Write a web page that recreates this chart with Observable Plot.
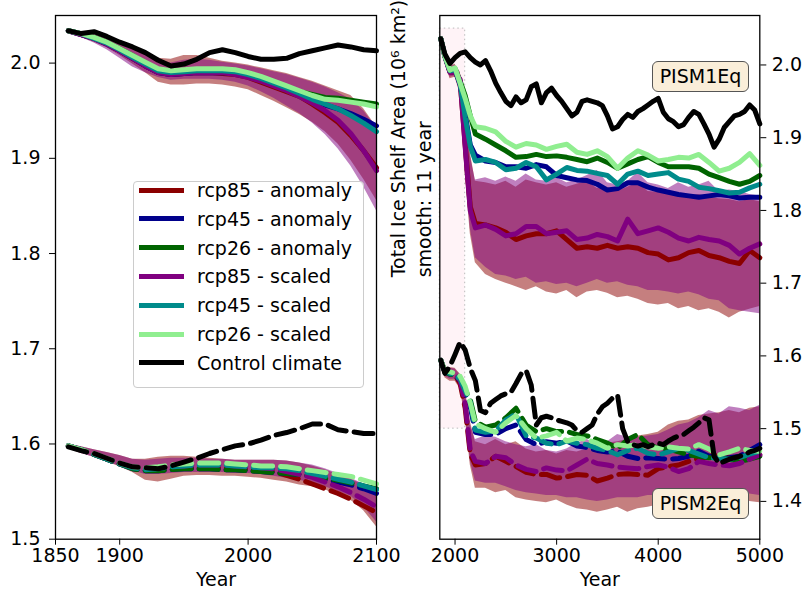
<!DOCTYPE html>
<html>
<head>
<meta charset="utf-8">
<script src="https://cdn.jsdelivr.net/npm/d3@7"></script>
<script src="https://cdn.jsdelivr.net/npm/@observablehq/plot@0.6"></script>
<style>
  body { margin: 0; background: white; }
  #wrap { position: relative; width: 808px; height: 598px; font-family: "DejaVu Sans", sans-serif; overflow: hidden; }
  #wrap svg { position: absolute; top: 0; overflow: visible; }
  .legend { position: absolute; left: 133px; top: 181px; width: 231px; height: 207px; border: 1px solid #cccccc; border-radius: 4px; background: rgba(255,255,255,0.8); box-sizing: border-box; }
  .lrow { position: absolute; left: 0; height: 28px; width: 100%; }
  .lsw { position: absolute; left: 5px; top: 11.5px; width: 45px; height: 5px; }
  .ltx { position: absolute; left: 63px; top: 0; line-height: 28px; font-size: 19px; color: #000; white-space: nowrap; }
  .tag { position: absolute; width: 97px; height: 31px; border: 1.5px solid #555; border-radius: 6px; background: #faeed9; box-sizing: border-box; font-size: 19px; line-height: 28px; text-align: center; color: #000; }
</style>
</head>
<body>
<div id="wrap"></div>
<script>
// ---------- series ----------
const seriesNames  = ["rcp85 - anomaly","rcp45 - anomaly","rcp26 - anomaly","rcp85 - scaled","rcp45 - scaled","rcp26 - scaled","Control climate"];
const seriesColors = ["#8b0000","#00008b","#006400","#800080","#008b8b","#90ee90","#000000"];
const bandColors   = ["#8b0000","#800080"]; // anomaly spread, scaled spread
const modelNames   = ["PISM1Eq","PISM2Eq"];

// ---------- left panel (historical) ----------
const leftXDomain = [1850, 2100];
const leftYDomain = [1.5, 2.05];
const leftXTicks = [1850, 1900, 2000, 2100];
const leftYTicks = [1.5, 1.6, 1.7, 1.8, 1.9, 2.0];
const yearsL = [1860,1870,1880,1890,1900,1910,1920,1930,1940,1950,1960,1970,1980,1990,2000,2010,2020,2030,2040,2050,2060,2070,2080,2090,2100];

// PISM1Eq (solid)
const rcp85aL1 = [2.034,2.030,2.026,2.020,2.013,2.005,1.997,1.990,1.988,1.989,1.990,1.990,1.989,1.988,1.985,1.980,1.975,1.970,1.965,1.957,1.948,1.938,1.924,1.908,1.890];
const rcp45aL1 = [2.034,2.030,2.026,2.020,2.013,2.005,1.997,1.990,1.988,1.989,1.990,1.990,1.990,1.989,1.986,1.982,1.977,1.972,1.967,1.961,1.956,1.952,1.947,1.941,1.934];
const rcp26aL1 = [2.034,2.031,2.027,2.022,2.015,2.008,2.000,1.993,1.991,1.992,1.993,1.993,1.992,1.991,1.988,1.984,1.980,1.975,1.970,1.967,1.964,1.963,1.961,1.959,1.957];
const rcp85sL1 = [2.034,2.030,2.026,2.020,2.013,2.005,1.997,1.990,1.988,1.989,1.990,1.990,1.990,1.988,1.985,1.981,1.976,1.971,1.965,1.958,1.950,1.940,1.926,1.908,1.887];
const rcp45sL1 = [2.034,2.031,2.026,2.021,2.014,2.006,1.999,1.992,1.990,1.991,1.992,1.992,1.992,1.991,1.988,1.984,1.979,1.974,1.968,1.962,1.957,1.952,1.945,1.937,1.928];
const rcp26sL1 = [2.034,2.031,2.027,2.022,2.015,2.008,2.001,1.994,1.992,1.993,1.994,1.994,1.994,1.993,1.990,1.986,1.981,1.976,1.971,1.966,1.962,1.961,1.959,1.957,1.954];
const ctrlL1   = [2.034,2.031,2.033,2.028,2.022,2.017,2.011,2.003,1.997,1.999,2.004,2.011,2.014,2.011,2.007,2.004,2.004,2.005,2.010,2.013,2.016,2.019,2.017,2.014,2.013];
const anomHiL1 = [2.036,2.033,2.030,2.026,2.022,2.016,2.010,2.005,2.004,2.008,2.008,2.005,2.002,2.000,1.998,1.995,1.992,1.989,1.985,1.981,1.976,1.971,1.966,1.952,1.933];
const anomLoL1 = [2.032,2.027,2.022,2.016,2.008,1.999,1.990,1.980,1.977,1.977,1.978,1.978,1.977,1.975,1.972,1.966,1.960,1.953,1.946,1.938,1.928,1.915,1.898,1.878,1.856];
const scalHiL1 = [2.036,2.033,2.030,2.026,2.021,2.015,2.009,2.003,2.000,2.003,2.004,2.003,2.001,1.999,1.997,1.994,1.991,1.988,1.984,1.980,1.975,1.969,1.962,1.950,1.932];
const scalLoL1 = [2.032,2.027,2.021,2.014,2.005,1.996,1.990,1.985,1.982,1.983,1.983,1.983,1.982,1.980,1.976,1.970,1.963,1.955,1.947,1.937,1.925,1.910,1.892,1.870,1.845];

// PISM2Eq (dashed)
const rcp85aL2 = [1.598,1.594,1.589,1.584,1.579,1.575,1.573,1.573,1.574,1.575,1.575,1.575,1.575,1.574,1.574,1.573,1.571,1.567,1.563,1.558,1.553,1.548,1.542,1.535,1.528];
const rcp45aL2 = [1.598,1.594,1.589,1.584,1.579,1.574,1.572,1.572,1.573,1.574,1.574,1.574,1.573,1.573,1.572,1.571,1.570,1.569,1.568,1.566,1.563,1.560,1.557,1.553,1.548];
const rcp26aL2 = [1.598,1.594,1.589,1.584,1.579,1.574,1.572,1.572,1.573,1.574,1.574,1.574,1.573,1.573,1.572,1.571,1.570,1.569,1.568,1.566,1.564,1.562,1.559,1.556,1.553];
const rcp85sL2 = [1.598,1.594,1.590,1.585,1.580,1.576,1.575,1.575,1.576,1.577,1.578,1.578,1.578,1.577,1.576,1.575,1.574,1.571,1.568,1.565,1.560,1.555,1.549,1.542,1.534];
const rcp45sL2 = [1.598,1.594,1.589,1.584,1.579,1.575,1.573,1.574,1.576,1.577,1.578,1.578,1.578,1.577,1.576,1.575,1.575,1.574,1.572,1.569,1.566,1.563,1.560,1.556,1.552];
const rcp26sL2 = [1.598,1.594,1.590,1.585,1.580,1.576,1.575,1.576,1.578,1.579,1.580,1.580,1.580,1.579,1.578,1.577,1.577,1.576,1.574,1.572,1.570,1.568,1.566,1.562,1.558];
const ctrlL2   = [1.597,1.593,1.590,1.585,1.580,1.576,1.575,1.574,1.577,1.581,1.585,1.590,1.594,1.598,1.600,1.604,1.609,1.612,1.616,1.621,1.621,1.615,1.613,1.611,1.611];
const anomHiL2 = [1.600,1.597,1.594,1.591,1.588,1.584,1.584,1.586,1.587,1.587,1.586,1.585,1.584,1.583,1.583,1.583,1.583,1.582,1.580,1.577,1.573,1.568,1.563,1.557,1.550];
const anomLoL2 = [1.595,1.590,1.586,1.581,1.576,1.570,1.562,1.560,1.563,1.566,1.567,1.567,1.566,1.566,1.565,1.564,1.562,1.560,1.557,1.555,1.552,1.546,1.541,1.530,1.513];
const scalHiL2 = [1.600,1.597,1.594,1.591,1.588,1.584,1.583,1.584,1.585,1.585,1.585,1.584,1.584,1.583,1.583,1.583,1.583,1.582,1.580,1.578,1.574,1.569,1.564,1.558,1.553];
const scalLoL2 = [1.595,1.590,1.586,1.581,1.577,1.572,1.568,1.568,1.569,1.570,1.570,1.570,1.570,1.569,1.569,1.568,1.566,1.564,1.562,1.559,1.555,1.550,1.545,1.534,1.518];

// ---------- right panel (long run) ----------
const rightXDomain = [1850, 5000];
const rightYDomain = [1.348, 2.068];
const rightXTicks = [2000, 3000, 4000, 5000];
const rightYTicks = [1.4, 1.5, 1.6, 1.7, 1.8, 1.9, 2.0];
const yearsR = [1860,1900,1950,2000,2050,2100,2150,2200,2300,2400,2500,2600,2700,2800,2900,3000,3100,3200,3300,3400,3500,3600,3700,3800,3900,4000,4100,4200,4300,4400,4500,4600,4700,4800,4900,5000];
const yearsC = [1860,1900,1950,2000,2050,2100,2150,2200,2250,2300,2350,2400,2450,2500,2550,2600,2650,2700,2750,2800,2850,2900,2950,3000,3050,3100,3150,3200,3250,3300,3350,3400,3450,3500,3550,3600,3650,3700,3750,3800,3850,3900,3950,4000,4050,4100,4150,4200,4250,4300,4350,4400,4450,4500,4550,4600,4650,4700,4750,4800,4850,4900,4950,5000];

// PISM1Eq (solid)
const rcp85aR1 = [2.036,2.012,1.990,1.990,1.978,1.890,1.805,1.782,1.780,1.776,1.770,1.760,1.765,1.768,1.768,1.772,1.760,1.748,1.750,1.748,1.752,1.748,1.750,1.748,1.742,1.740,1.732,1.735,1.742,1.745,1.738,1.735,1.730,1.727,1.745,1.735];
const rcp45aR1 = [2.036,2.012,1.991,1.993,1.973,1.932,1.890,1.876,1.868,1.866,1.860,1.860,1.858,1.863,1.860,1.848,1.845,1.842,1.841,1.836,1.828,1.830,1.838,1.838,1.832,1.828,1.825,1.822,1.820,1.818,1.820,1.822,1.820,1.817,1.818,1.818];
const rcp26aR1 = [2.036,2.012,1.992,1.995,1.978,1.958,1.930,1.905,1.898,1.890,1.882,1.873,1.874,1.877,1.874,1.875,1.873,1.870,1.867,1.872,1.866,1.858,1.864,1.870,1.874,1.866,1.860,1.860,1.860,1.858,1.850,1.845,1.840,1.836,1.840,1.848];
const rcp85sR1 = [2.036,2.012,1.990,1.990,1.980,1.887,1.800,1.776,1.780,1.774,1.765,1.768,1.778,1.778,1.768,1.770,1.772,1.760,1.762,1.767,1.764,1.758,1.788,1.768,1.772,1.776,1.770,1.762,1.758,1.763,1.760,1.758,1.752,1.740,1.748,1.754];
const rcp45sR1 = [2.036,2.012,1.992,1.994,1.975,1.928,1.888,1.868,1.870,1.866,1.856,1.858,1.866,1.860,1.842,1.850,1.859,1.855,1.854,1.851,1.848,1.836,1.850,1.854,1.848,1.850,1.852,1.843,1.840,1.832,1.830,1.827,1.824,1.825,1.831,1.836];
const rcp26sR1 = [2.036,2.012,1.993,1.996,1.975,1.954,1.930,1.915,1.913,1.908,1.895,1.887,1.892,1.890,1.884,1.888,1.891,1.880,1.877,1.882,1.874,1.858,1.872,1.882,1.876,1.868,1.870,1.873,1.872,1.877,1.866,1.854,1.858,1.866,1.878,1.862];
const ctrlR1 = [2.036,2.015,2.002,2.010,2.016,2.018,2.010,2.004,2.000,2.006,1.992,1.975,1.962,1.950,1.944,1.956,1.948,1.952,1.970,1.974,1.948,1.962,1.968,1.958,1.950,1.940,1.930,1.935,1.950,1.952,1.950,1.948,1.944,1.930,1.912,1.915,1.925,1.932,1.928,1.936,1.940,1.945,1.950,1.954,1.935,1.926,1.922,1.915,1.918,1.928,1.936,1.932,1.919,1.905,1.887,1.898,1.914,1.922,1.930,1.932,1.936,1.945,1.938,1.919];
const anomHiR1 = [2.037,2.016,1.998,2.001,1.990,1.960,1.880,1.840,1.838,1.835,1.840,1.832,1.842,1.838,1.835,1.838,1.832,1.836,1.840,1.830,1.832,1.826,1.832,1.838,1.826,1.825,1.822,1.824,1.820,1.822,1.818,1.816,1.815,1.812,1.815,1.812];
const anomLoR1 = [2.033,2.005,1.981,1.983,1.960,1.850,1.768,1.728,1.712,1.705,1.700,1.695,1.690,1.695,1.688,1.685,1.690,1.680,1.688,1.690,1.686,1.680,1.682,1.678,1.672,1.670,1.672,1.665,1.668,1.662,1.665,1.660,1.652,1.660,1.664,1.668];
const scalHiR1 = [2.037,2.016,1.997,2.000,1.990,1.955,1.875,1.842,1.845,1.840,1.846,1.840,1.850,1.842,1.840,1.845,1.838,1.842,1.848,1.855,1.838,1.835,1.840,1.852,1.838,1.835,1.830,1.838,1.832,1.835,1.840,1.826,1.828,1.826,1.822,1.820];
const scalLoR1 = [2.033,2.006,1.983,1.985,1.962,1.855,1.775,1.735,1.722,1.712,1.710,1.705,1.708,1.700,1.702,1.698,1.700,1.695,1.700,1.705,1.700,1.702,1.697,1.695,1.690,1.690,1.688,1.685,1.688,1.684,1.678,1.676,1.665,1.662,1.660,1.658];

// PISM2Eq (dashed)
const rcp85aR2 = [1.594,1.578,1.576,1.574,1.562,1.528,1.465,1.450,1.452,1.462,1.455,1.448,1.440,1.437,1.437,1.432,1.434,1.437,1.436,1.428,1.432,1.437,1.438,1.437,1.436,1.445,1.448,1.450,1.455,1.459,1.462,1.464,1.460,1.459,1.462,1.464];
const rcp45aR2 = [1.594,1.578,1.575,1.573,1.566,1.548,1.530,1.495,1.492,1.492,1.500,1.505,1.485,1.478,1.482,1.480,1.483,1.476,1.474,1.470,1.468,1.469,1.462,1.459,1.460,1.459,1.458,1.459,1.462,1.469,1.462,1.459,1.460,1.462,1.470,1.478];
const rcp26aR2 = [1.594,1.578,1.575,1.573,1.569,1.553,1.540,1.510,1.502,1.505,1.515,1.528,1.505,1.496,1.500,1.496,1.496,1.492,1.490,1.485,1.480,1.473,1.485,1.492,1.478,1.473,1.472,1.468,1.464,1.462,1.460,1.459,1.458,1.455,1.458,1.462];
const rcp85sR2 = [1.594,1.578,1.577,1.576,1.566,1.534,1.470,1.455,1.452,1.462,1.460,1.450,1.444,1.441,1.446,1.443,1.442,1.450,1.458,1.452,1.450,1.447,1.446,1.445,1.448,1.450,1.447,1.441,1.445,1.455,1.452,1.450,1.449,1.452,1.458,1.464];
const rcp45sR2 = [1.594,1.578,1.576,1.574,1.568,1.552,1.537,1.498,1.495,1.497,1.512,1.520,1.490,1.487,1.480,1.478,1.483,1.480,1.478,1.473,1.470,1.464,1.470,1.473,1.466,1.464,1.468,1.473,1.470,1.465,1.460,1.459,1.458,1.460,1.465,1.469];
const rcp26sR2 = [1.594,1.580,1.578,1.576,1.572,1.558,1.535,1.507,1.500,1.495,1.508,1.518,1.500,1.487,1.490,1.495,1.483,1.487,1.485,1.480,1.473,1.478,1.476,1.478,1.475,1.473,1.475,1.473,1.472,1.478,1.472,1.464,1.468,1.473,1.470,1.469];
const ctrlR2 = [1.594,1.576,1.586,1.602,1.619,1.608,1.583,1.566,1.525,1.522,1.535,1.540,1.545,1.548,1.550,1.562,1.575,1.580,1.560,1.505,1.515,1.517,1.515,1.512,1.510,1.508,1.505,1.497,1.495,1.500,1.505,1.520,1.530,1.535,1.542,1.546,1.500,1.482,1.478,1.476,1.478,1.475,1.478,1.480,1.478,1.483,1.487,1.490,1.492,1.497,1.502,1.508,1.515,1.512,1.462,1.452,1.455,1.458,1.460,1.462,1.464,1.468,1.470,1.473];
const anomHiR2 = [1.596,1.584,1.584,1.583,1.575,1.555,1.510,1.482,1.478,1.485,1.478,1.482,1.472,1.468,1.470,1.465,1.470,1.468,1.472,1.475,1.480,1.482,1.485,1.490,1.492,1.495,1.505,1.510,1.512,1.518,1.520,1.522,1.525,1.522,1.528,1.530];
const anomLoR2 = [1.592,1.570,1.565,1.565,1.555,1.515,1.450,1.418,1.418,1.412,1.415,1.405,1.402,1.400,1.398,1.402,1.395,1.390,1.388,1.385,1.388,1.392,1.385,1.390,1.392,1.395,1.398,1.395,1.400,1.402,1.400,1.398,1.400,1.402,1.400,1.398];
const scalHiR2 = [1.596,1.584,1.583,1.582,1.574,1.552,1.505,1.485,1.490,1.488,1.482,1.478,1.475,1.478,1.470,1.468,1.472,1.480,1.485,1.478,1.482,1.492,1.488,1.488,1.490,1.492,1.498,1.505,1.508,1.515,1.525,1.520,1.530,1.528,1.525,1.532];
const scalLoR2 = [1.592,1.572,1.568,1.568,1.558,1.520,1.455,1.428,1.425,1.425,1.420,1.415,1.412,1.410,1.408,1.408,1.405,1.405,1.402,1.400,1.402,1.405,1.405,1.405,1.408,1.408,1.410,1.410,1.412,1.410,1.412,1.410,1.410,1.412,1.410,1.408];

const yLabel = "Total Ice Shelf Area (10\u2076 km\u00b2)\nsmooth: 11 year";
const xLabel = "Year";

// ---------- helpers ----------
const LW = 5;
const DASH = "19,8";
function band(xs, lo, hi, color) {
  return Plot.areaY(xs.map((x, i) => ({x, lo: lo[i], hi: hi[i]})),
    {x: "x", y1: "lo", y2: "hi", fill: color, fillOpacity: 0.5, curve: "linear"});
}
function line(xs, ys, color, dashed) {
  const o = {x: "x", y: "y", stroke: color, strokeWidth: LW, strokeLinejoin: "round"};
  if (dashed) o.strokeDasharray = DASH;
  return Plot.line(xs.map((x, i) => ({x, y: ys[i]})), o);
}
function group(xs, xc, lines, ctrl, bands, dashed) {
  return [
    band(xs, bands[0], bands[1], bandColors[0]),
    band(xs, bands[2], bands[3], bandColors[1]),
    ...lines.map((ys, k) => line(xs, ys, seriesColors[k], dashed)),
    line(xc, ctrl, seriesColors[6], dashed)
  ];
}
const baseStyle = {fontFamily: "DejaVu Sans", fontSize: "19px", color: "black", background: "transparent", overflow: "visible"};

// ---------- left chart ----------
const left = Plot.plot({
  width: 380, height: 598,
  marginLeft: 55, marginRight: 4, marginTop: 15, marginBottom: 59.3,
  style: baseStyle,
  x: {domain: leftXDomain, ticks: leftXTicks, tickFormat: d3.format("d"), tickSize: 6, tickPadding: 3, label: null},
  y: {domain: leftYDomain, ticks: leftYTicks, tickFormat: d3.format(".1f"), tickSize: 6, tickPadding: 9, label: null},
  marks: [
    ...group(yearsL, yearsL, [rcp85aL1, rcp45aL1, rcp26aL1, rcp85sL1, rcp45sL1, rcp26sL1], ctrlL1, [anomLoL1, anomHiL1, scalLoL1, scalHiL1], false),
    ...group(yearsL, yearsL, [rcp85aL2, rcp45aL2, rcp26aL2, rcp85sL2, rcp45sL2, rcp26sL2], ctrlL2, [anomLoL2, anomHiL2, scalLoL2, scalHiL2], true),
    Plot.frame({stroke: "black", strokeWidth: 1.3}),
    Plot.text([xLabel], {frameAnchor: "bottom", dy: 47, text: d => d, fontSize: 19})
  ]
});
left.style.left = "0px";

// ---------- right chart ----------
const zoomBox = [{x1: leftXDomain[0], x2: leftXDomain[1], y1: leftYDomain[0], y2: leftYDomain[1]}];
const right = Plot.plot({
  width: 428, height: 598,
  marginLeft: 59.3, marginRight: 48.7, marginTop: 15, marginBottom: 59.3,
  style: baseStyle,
  x: {domain: rightXDomain, ticks: rightXTicks, tickFormat: d3.format("d"), tickSize: 6, tickPadding: 3, label: null},
  y: {domain: rightYDomain, ticks: rightYTicks, tickFormat: d3.format(".1f"), axis: "right", tickSize: 6, tickPadding: 6, label: null},
  marks: [
    Plot.rect(zoomBox, {x1: "x1", x2: "x2", y1: "y1", y2: "y2", fill: "#fff0f5", fillOpacity: 0.8, stroke: "#bbbbbb", strokeWidth: 1, strokeDasharray: "1.5,3"}),
    ...group(yearsR, yearsC, [rcp85aR1, rcp45aR1, rcp26aR1, rcp85sR1, rcp45sR1, rcp26sR1], ctrlR1, [anomLoR1, anomHiR1, scalLoR1, scalHiR1], false),
    ...group(yearsR, yearsC, [rcp85aR2, rcp45aR2, rcp26aR2, rcp85sR2, rcp45sR2, rcp26sR2], ctrlR2, [anomLoR2, anomHiR2, scalLoR2, scalHiR2], true),
    Plot.frame({stroke: "black", strokeWidth: 1.3}),
    Plot.text([xLabel], {frameAnchor: "bottom", dy: 47, text: d => d, fontSize: 19}),
    Plot.text([yLabel], {frameAnchor: "left", dx: -30, rotate: -90, lineHeight: 1.37, text: d => d, fontSize: 19})
  ]
});
right.style.left = "380px";

const wrap = document.getElementById("wrap");
wrap.appendChild(left);
wrap.appendChild(right);

// ---------- legend ----------
const legend = document.createElement("div");
legend.className = "legend";
seriesNames.forEach((name, i) => {
  const row = document.createElement("div");
  row.className = "lrow";
  row.style.top = (-6 + i * 28.8) + "px";
  const sw = document.createElement("div");
  sw.className = "lsw";
  sw.style.background = seriesColors[i];
  const tx = document.createElement("div");
  tx.className = "ltx";
  tx.textContent = name;
  row.appendChild(sw); row.appendChild(tx);
  legend.appendChild(row);
});
wrap.appendChild(legend);

// ---------- model tags ----------
[[modelNames[0], 61], [modelNames[1], 488]].forEach(([name, top]) => {
  const t = document.createElement("div");
  t.className = "tag";
  t.style.left = "652px";
  t.style.top = top + "px";
  t.textContent = name;
  wrap.appendChild(t);
});
</script>
</body>
</html>
